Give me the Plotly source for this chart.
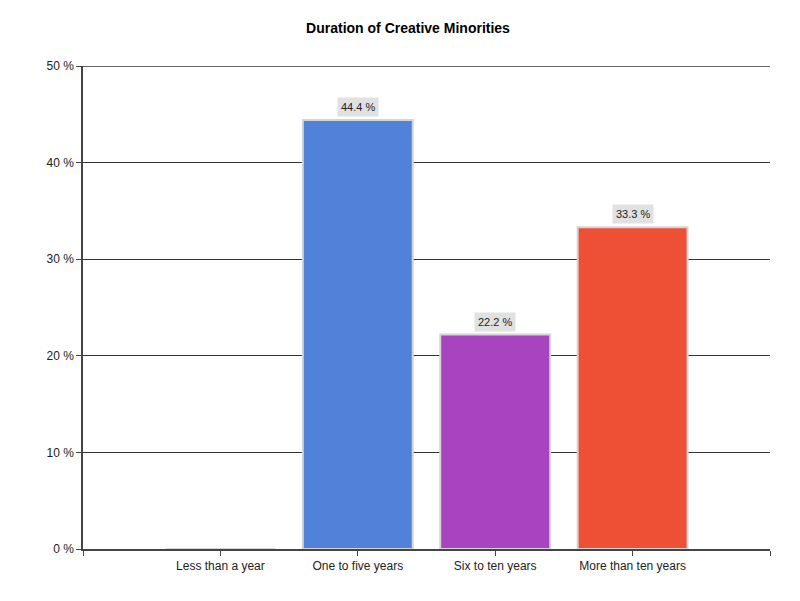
import plotly.graph_objects as go

categories = ["Less than a year", "One to five years", "Six to ten years", "More than ten years"]
values = [0.0, 44.4, 22.2, 33.3]
labels = ["", "44.4 %", "22.2 %", "33.3 %"]
colors = ["#5a8ae0", "#5082da", "#a944c1", "#ee5035"]
y_ticks = [0, 10, 20, 30, 40, 50]
y_ticktext = ["0 %", "10 %", "20 %", "30 %", "40 %", "50 %"]

x_pos = list(range(len(categories)))

fig = go.Figure()
fig.add_trace(go.Bar(
    x=x_pos, y=values, width=0.8,
    marker=dict(color=colors, line=dict(color="#d4d4d4", width=2)),
    hoverinfo="skip",
))

for xi, v, lab in zip(x_pos, values, labels):
    if lab:
        fig.add_annotation(x=xi, y=v, text=lab, showarrow=False, yanchor="bottom",
                           yshift=3, bgcolor="#e1e1e1", borderpad=3,
                           font=dict(family="Liberation Sans", size=11, color="#222"))

# top gridline at 50 % (plotly drops grid lines on the range edge)
fig.add_shape(type="line", xref="paper", x0=0, x1=1, yref="y", y0=50, y1=50,
              line=dict(color="#333", width=1.5))

fig.update_layout(
    width=800, height=601,
    title=dict(text="<b>Duration of Creative Minorities</b>", x=0.5, xanchor="center",
               y=0.967, yanchor="middle",
               font=dict(family="Liberation Sans", size=14, color="#000")),
    paper_bgcolor="white", plot_bgcolor="white",
    margin=dict(l=75, r=38, t=58, b=60),
    showlegend=False,
    font=dict(family="Liberation Sans", size=12, color="#222"),
)
fig.update_xaxes(
    range=[-1, 4], tickmode="array", tickvals=[-1] + x_pos + [4],
    ticktext=[""] + categories + [""], ticks="outside", ticklen=5,
    tickcolor="#444", showline=True, linecolor="#444", linewidth=1.5,
    showgrid=False, zeroline=False,
)
fig.update_yaxes(
    range=[0, 50], tickmode="array", tickvals=y_ticks, ticktext=y_ticktext,
    ticks="outside", ticklen=5,
    tickcolor="#444", showline=True, linecolor="#444", linewidth=1.5,
    showgrid=True, gridcolor="#333", gridwidth=1, zeroline=False,
)

fig.write_html("out.html")
